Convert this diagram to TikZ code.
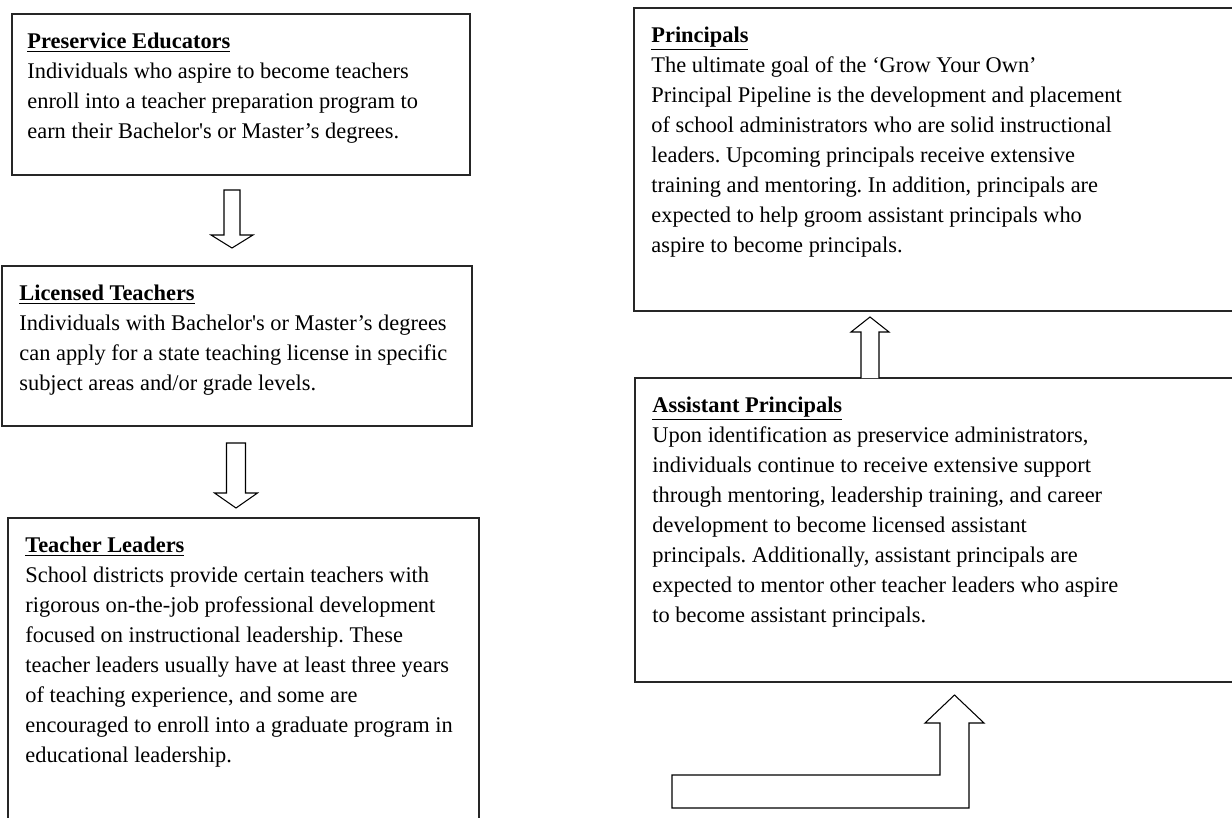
\documentclass[tikz,border=0pt]{standalone}
\usepackage{fontspec}
\setmainfont{Liberation Serif}
\usetikzlibrary{fit,calc}
\frenchspacing

\newcommand{\stagetitle}[1]{\rule{0pt}{0.7cm}\underline{\textbf{#1}}}

\tikzset{
  stagebox/.style={draw=black!85, line width=1.1pt, inner sep=0pt},
  stagetext/.style={anchor=north west, align=left, inner sep=0pt,
    font=\fontsize{12.75pt}{17.07pt}\selectfont},
  blockarrow/.style={draw=black, line width=0.6pt, fill=white, line join=miter}
}

\begin{document}
\begin{tikzpicture}[x=0.02cm, y=-0.02cm]
	\clip (0,0) rectangle (1232,818);
	% Boxes, left column:
	\node[stagebox, fit={(12,14) (470,175)}] (pre) {};
	\node[stagebox, fit={(2,266) (472,426)}] (lic) {};
	\node[stagebox, fit={(8,518) (479,840)}] (tl) {};
	% Boxes, right column:
	\node[stagebox, fit={(634,8) (1245,311)}] (prin) {};
	\node[stagebox, fit={(635,378) (1245,682)}] (ap) {};
	% Texts:
	\node[stagetext] (pre-t) at ($(pre.north west)+(16,0)$) {\stagetitle{Preservice Educators}\\
		Individuals who aspire to become teachers\\
		enroll into a teacher preparation program to\\
		earn their Bachelor\textquotesingle s or Master’s degrees.};
	\node[stagetext] (lic-t) at ($(lic.north west)+(18,0)$) {\stagetitle{Licensed Teachers}\\
		Individuals with Bachelor\textquotesingle s or Master’s degrees\\
		can apply for a state teaching license in specific\\
		subject areas and/or grade levels.};
	\node[stagetext] (tl-t) at ($(tl.north west)+(18,0)$) {\stagetitle{Teacher Leaders}\\
		School districts provide certain teachers with\\
		rigorous on-the-job professional development\\
		focused on instructional leadership. These\\
		teacher leaders usually have at least three years\\
		of teaching experience, and some are\\
		encouraged to enroll into a graduate program in\\
		educational leadership.};
	\node[stagetext] (prin-t) at ($(prin.north west)+(18,0)$) {\stagetitle{Principals}\\
		The ultimate goal of the ‘Grow Your Own’\\
		Principal Pipeline is the development and placement\\
		of school administrators who are solid instructional\\
		leaders. Upcoming principals receive extensive\\
		training and mentoring. In addition, principals are\\
		expected to help groom assistant principals who\\
		aspire to become principals.};
	\node[stagetext] (ap-t) at ($(ap.north west)+(18,0)$) {\stagetitle{Assistant Principals}\\
		Upon identification as preservice administrators,\\
		individuals continue to receive extensive support\\
		through mentoring, leadership training, and career\\
		development to become licensed assistant\\
		principals. Additionally, assistant principals are\\
		expected to mentor other teacher leaders who aspire\\
		to become assistant principals.};
	% Block arrows:
	\draw[blockarrow] (224,190) -- (240,190) -- (240,235) -- (253,235) -- (232,248) -- (211,235) -- (224,235) -- cycle;
	\draw[blockarrow] (226.5,443) -- (245.5,443) -- (245.5,493) -- (257.5,493) -- (236,508) -- (214.5,493) -- (226.5,493) -- cycle;
	\draw[blockarrow] (861,378) -- (861,332) -- (851,332) -- (870,317) -- (889,332) -- (879,332) -- (879,378);
	\draw[blockarrow] (672,775) -- (940,775) -- (940,723) -- (925,723) -- (954.5,695) -- (984,723) -- (969,723) -- (969,808) -- (672,808) -- cycle;
\end{tikzpicture}
\end{document}
